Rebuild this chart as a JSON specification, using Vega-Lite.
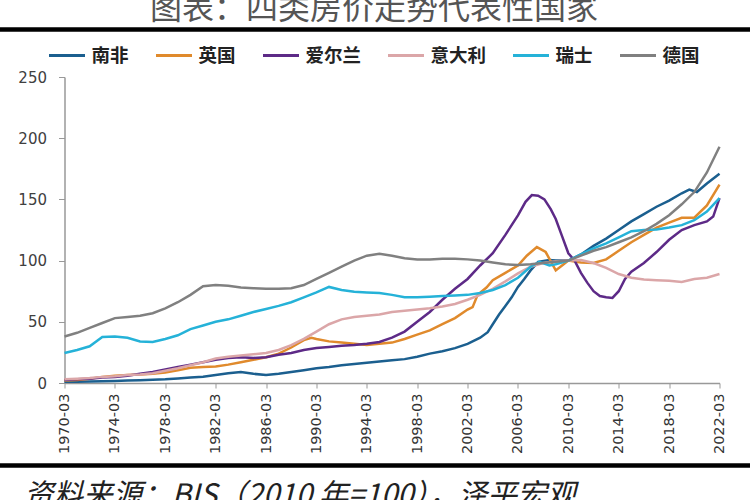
{
  "$schema": "https://vega.github.io/schema/vega-lite/v6.json",
  "width": 655,
  "height": 306,
  "autosize": {"type": "none"},
  "padding": {"left": 64.5, "top": 77, "right": 30.5, "bottom": 117},
  "background": "white",
  "config": {"view": {"stroke": null}},
  "datasets": {
    "prices": [
      {"country": "南非", "year": 1970, "value": 1},
      {"country": "南非", "year": 1971, "value": 1},
      {"country": "南非", "year": 1972, "value": 1.2},
      {"country": "南非", "year": 1973, "value": 1.5},
      {"country": "南非", "year": 1974, "value": 1.7},
      {"country": "南非", "year": 1975, "value": 2},
      {"country": "南非", "year": 1976, "value": 2.3},
      {"country": "南非", "year": 1977, "value": 2.7},
      {"country": "南非", "year": 1978, "value": 3},
      {"country": "南非", "year": 1979, "value": 3.7},
      {"country": "南非", "year": 1980, "value": 4.5},
      {"country": "南非", "year": 1981, "value": 5.2},
      {"country": "南非", "year": 1982, "value": 6.5},
      {"country": "南非", "year": 1983, "value": 8},
      {"country": "南非", "year": 1984, "value": 9},
      {"country": "南非", "year": 1985, "value": 7.5},
      {"country": "南非", "year": 1986, "value": 6.5},
      {"country": "南非", "year": 1987, "value": 7.5},
      {"country": "南非", "year": 1988, "value": 9},
      {"country": "南非", "year": 1989, "value": 10.5},
      {"country": "南非", "year": 1990, "value": 12},
      {"country": "南非", "year": 1991, "value": 13},
      {"country": "南非", "year": 1992, "value": 14.5},
      {"country": "南非", "year": 1993, "value": 15.5},
      {"country": "南非", "year": 1994, "value": 16.5},
      {"country": "南非", "year": 1995, "value": 17.5},
      {"country": "南非", "year": 1996, "value": 18.5},
      {"country": "南非", "year": 1997, "value": 19.5},
      {"country": "南非", "year": 1998, "value": 21.5},
      {"country": "南非", "year": 1999, "value": 24},
      {"country": "南非", "year": 2000, "value": 26},
      {"country": "南非", "year": 2001, "value": 28.5},
      {"country": "南非", "year": 2002, "value": 32},
      {"country": "南非", "year": 2003, "value": 37},
      {"country": "南非", "year": 2003.6, "value": 41.5},
      {"country": "南非", "year": 2004, "value": 48},
      {"country": "南非", "year": 2004.5, "value": 56},
      {"country": "南非", "year": 2005, "value": 63},
      {"country": "南非", "year": 2005.5, "value": 70},
      {"country": "南非", "year": 2006, "value": 78.5},
      {"country": "南非", "year": 2006.5, "value": 85},
      {"country": "南非", "year": 2007, "value": 92},
      {"country": "南非", "year": 2007.6, "value": 99},
      {"country": "南非", "year": 2008.5, "value": 100.5},
      {"country": "南非", "year": 2009, "value": 100},
      {"country": "南非", "year": 2010, "value": 100},
      {"country": "南非", "year": 2011, "value": 105},
      {"country": "南非", "year": 2012, "value": 112},
      {"country": "南非", "year": 2013, "value": 118},
      {"country": "南非", "year": 2014, "value": 125},
      {"country": "南非", "year": 2015, "value": 132},
      {"country": "南非", "year": 2016, "value": 138},
      {"country": "南非", "year": 2017, "value": 144},
      {"country": "南非", "year": 2018, "value": 149},
      {"country": "南非", "year": 2019, "value": 155},
      {"country": "南非", "year": 2019.6, "value": 158},
      {"country": "南非", "year": 2020.2, "value": 156},
      {"country": "南非", "year": 2021, "value": 163},
      {"country": "南非", "year": 2022, "value": 171},

      {"country": "英国", "year": 1970, "value": 2},
      {"country": "英国", "year": 1971, "value": 2.5},
      {"country": "英国", "year": 1972, "value": 3.5},
      {"country": "英国", "year": 1973, "value": 5},
      {"country": "英国", "year": 1974, "value": 6},
      {"country": "英国", "year": 1975, "value": 6.5},
      {"country": "英国", "year": 1976, "value": 7},
      {"country": "英国", "year": 1977, "value": 7.5},
      {"country": "英国", "year": 1978, "value": 8.5},
      {"country": "英国", "year": 1979, "value": 10.5},
      {"country": "英国", "year": 1980, "value": 12.5},
      {"country": "英国", "year": 1981, "value": 13},
      {"country": "英国", "year": 1982, "value": 13.5},
      {"country": "英国", "year": 1983, "value": 15},
      {"country": "英国", "year": 1984, "value": 17},
      {"country": "英国", "year": 1985, "value": 19},
      {"country": "英国", "year": 1986, "value": 21},
      {"country": "英国", "year": 1987, "value": 24},
      {"country": "英国", "year": 1988, "value": 29},
      {"country": "英国", "year": 1989, "value": 35},
      {"country": "英国", "year": 1989.6, "value": 37},
      {"country": "英国", "year": 1990, "value": 36},
      {"country": "英国", "year": 1991, "value": 34},
      {"country": "英国", "year": 1992, "value": 33},
      {"country": "英国", "year": 1993, "value": 32},
      {"country": "英国", "year": 1994, "value": 31},
      {"country": "英国", "year": 1995, "value": 32},
      {"country": "英国", "year": 1996, "value": 33},
      {"country": "英国", "year": 1997, "value": 36},
      {"country": "英国", "year": 1998, "value": 39.5},
      {"country": "英国", "year": 1999, "value": 43},
      {"country": "英国", "year": 2000, "value": 48},
      {"country": "英国", "year": 2001, "value": 53},
      {"country": "英国", "year": 2002, "value": 60},
      {"country": "英国", "year": 2002.4, "value": 62},
      {"country": "英国", "year": 2002.8, "value": 72},
      {"country": "英国", "year": 2003.5, "value": 78},
      {"country": "英国", "year": 2004, "value": 84},
      {"country": "英国", "year": 2005, "value": 90},
      {"country": "英国", "year": 2006, "value": 96},
      {"country": "英国", "year": 2006.7, "value": 104},
      {"country": "英国", "year": 2007.5, "value": 111},
      {"country": "英国", "year": 2008.2, "value": 107},
      {"country": "英国", "year": 2009, "value": 92},
      {"country": "英国", "year": 2009.5, "value": 96},
      {"country": "英国", "year": 2010, "value": 100},
      {"country": "英国", "year": 2011, "value": 98.5},
      {"country": "英国", "year": 2012, "value": 98},
      {"country": "英国", "year": 2013, "value": 101},
      {"country": "英国", "year": 2014, "value": 108},
      {"country": "英国", "year": 2015, "value": 115},
      {"country": "英国", "year": 2016, "value": 121},
      {"country": "英国", "year": 2017, "value": 127},
      {"country": "英国", "year": 2018, "value": 131},
      {"country": "英国", "year": 2019, "value": 135},
      {"country": "英国", "year": 2020, "value": 135},
      {"country": "英国", "year": 2021, "value": 145},
      {"country": "英国", "year": 2022, "value": 162},

      {"country": "爱尔兰", "year": 1970, "value": 2.5},
      {"country": "爱尔兰", "year": 1971, "value": 3},
      {"country": "爱尔兰", "year": 1972, "value": 3.5},
      {"country": "爱尔兰", "year": 1973, "value": 4.5},
      {"country": "爱尔兰", "year": 1974, "value": 5},
      {"country": "爱尔兰", "year": 1975, "value": 6},
      {"country": "爱尔兰", "year": 1976, "value": 7.5},
      {"country": "爱尔兰", "year": 1977, "value": 9},
      {"country": "爱尔兰", "year": 1978, "value": 11},
      {"country": "爱尔兰", "year": 1979, "value": 13},
      {"country": "爱尔兰", "year": 1980, "value": 15},
      {"country": "爱尔兰", "year": 1981, "value": 17},
      {"country": "爱尔兰", "year": 1982, "value": 19},
      {"country": "爱尔兰", "year": 1983, "value": 20.5},
      {"country": "爱尔兰", "year": 1984, "value": 21},
      {"country": "爱尔兰", "year": 1985, "value": 20.5},
      {"country": "爱尔兰", "year": 1986, "value": 21},
      {"country": "爱尔兰", "year": 1987, "value": 23},
      {"country": "爱尔兰", "year": 1988, "value": 24.5},
      {"country": "爱尔兰", "year": 1989, "value": 27},
      {"country": "爱尔兰", "year": 1990, "value": 28.5},
      {"country": "爱尔兰", "year": 1991, "value": 29.5},
      {"country": "爱尔兰", "year": 1992, "value": 30.5},
      {"country": "爱尔兰", "year": 1993, "value": 31},
      {"country": "爱尔兰", "year": 1994, "value": 32},
      {"country": "爱尔兰", "year": 1995, "value": 33.5},
      {"country": "爱尔兰", "year": 1996, "value": 37},
      {"country": "爱尔兰", "year": 1997, "value": 42},
      {"country": "爱尔兰", "year": 1998, "value": 50},
      {"country": "爱尔兰", "year": 1999, "value": 58},
      {"country": "爱尔兰", "year": 2000, "value": 68},
      {"country": "爱尔兰", "year": 2001, "value": 77},
      {"country": "爱尔兰", "year": 2002, "value": 85},
      {"country": "爱尔兰", "year": 2003, "value": 96},
      {"country": "爱尔兰", "year": 2004, "value": 106},
      {"country": "爱尔兰", "year": 2005, "value": 121},
      {"country": "爱尔兰", "year": 2006, "value": 137},
      {"country": "爱尔兰", "year": 2006.6, "value": 148},
      {"country": "爱尔兰", "year": 2007.1, "value": 153.5},
      {"country": "爱尔兰", "year": 2007.6, "value": 153},
      {"country": "爱尔兰", "year": 2008.1, "value": 150},
      {"country": "爱尔兰", "year": 2008.6, "value": 142},
      {"country": "爱尔兰", "year": 2009, "value": 134},
      {"country": "爱尔兰", "year": 2009.5, "value": 120},
      {"country": "爱尔兰", "year": 2010, "value": 106},
      {"country": "爱尔兰", "year": 2010.5, "value": 100},
      {"country": "爱尔兰", "year": 2011, "value": 90},
      {"country": "爱尔兰", "year": 2011.5, "value": 82},
      {"country": "爱尔兰", "year": 2012, "value": 75},
      {"country": "爱尔兰", "year": 2012.5, "value": 71},
      {"country": "爱尔兰", "year": 2013, "value": 70},
      {"country": "爱尔兰", "year": 2013.5, "value": 69.5},
      {"country": "爱尔兰", "year": 2014, "value": 75},
      {"country": "爱尔兰", "year": 2014.5, "value": 85},
      {"country": "爱尔兰", "year": 2015, "value": 91},
      {"country": "爱尔兰", "year": 2016, "value": 98},
      {"country": "爱尔兰", "year": 2017, "value": 107},
      {"country": "爱尔兰", "year": 2018, "value": 117},
      {"country": "爱尔兰", "year": 2019, "value": 125},
      {"country": "爱尔兰", "year": 2020, "value": 129},
      {"country": "爱尔兰", "year": 2021, "value": 132},
      {"country": "爱尔兰", "year": 2021.5, "value": 136},
      {"country": "爱尔兰", "year": 2022, "value": 151},

      {"country": "意大利", "year": 1970, "value": 3},
      {"country": "意大利", "year": 1971, "value": 3.5},
      {"country": "意大利", "year": 1972, "value": 4},
      {"country": "意大利", "year": 1973, "value": 5},
      {"country": "意大利", "year": 1974, "value": 5.5},
      {"country": "意大利", "year": 1975, "value": 6.5},
      {"country": "意大利", "year": 1976, "value": 7},
      {"country": "意大利", "year": 1977, "value": 8},
      {"country": "意大利", "year": 1978, "value": 10},
      {"country": "意大利", "year": 1979, "value": 12},
      {"country": "意大利", "year": 1980, "value": 14.5},
      {"country": "意大利", "year": 1981, "value": 17},
      {"country": "意大利", "year": 1982, "value": 20},
      {"country": "意大利", "year": 1983, "value": 21.5},
      {"country": "意大利", "year": 1984, "value": 22.5},
      {"country": "意大利", "year": 1985, "value": 23.5},
      {"country": "意大利", "year": 1986, "value": 24.5},
      {"country": "意大利", "year": 1987, "value": 27},
      {"country": "意大利", "year": 1988, "value": 31},
      {"country": "意大利", "year": 1989, "value": 36},
      {"country": "意大利", "year": 1990, "value": 42},
      {"country": "意大利", "year": 1991, "value": 48},
      {"country": "意大利", "year": 1992, "value": 52},
      {"country": "意大利", "year": 1993, "value": 54},
      {"country": "意大利", "year": 1994, "value": 55},
      {"country": "意大利", "year": 1995, "value": 56},
      {"country": "意大利", "year": 1996, "value": 58},
      {"country": "意大利", "year": 1997, "value": 59},
      {"country": "意大利", "year": 1998, "value": 60},
      {"country": "意大利", "year": 1999, "value": 61},
      {"country": "意大利", "year": 2000, "value": 62.5},
      {"country": "意大利", "year": 2001, "value": 64.5},
      {"country": "意大利", "year": 2002, "value": 68},
      {"country": "意大利", "year": 2003, "value": 72},
      {"country": "意大利", "year": 2004, "value": 77},
      {"country": "意大利", "year": 2005, "value": 83},
      {"country": "意大利", "year": 2006, "value": 89.5},
      {"country": "意大利", "year": 2007, "value": 95},
      {"country": "意大利", "year": 2008, "value": 98},
      {"country": "意大利", "year": 2009, "value": 99.5},
      {"country": "意大利", "year": 2010, "value": 100},
      {"country": "意大利", "year": 2011, "value": 100.5},
      {"country": "意大利", "year": 2012, "value": 98},
      {"country": "意大利", "year": 2013, "value": 94},
      {"country": "意大利", "year": 2014, "value": 89},
      {"country": "意大利", "year": 2015, "value": 86},
      {"country": "意大利", "year": 2016, "value": 84.5},
      {"country": "意大利", "year": 2017, "value": 84},
      {"country": "意大利", "year": 2018, "value": 83.5},
      {"country": "意大利", "year": 2019, "value": 82.5},
      {"country": "意大利", "year": 2020, "value": 85},
      {"country": "意大利", "year": 2021, "value": 86},
      {"country": "意大利", "year": 2022, "value": 89},

      {"country": "瑞士", "year": 1970, "value": 24.5},
      {"country": "瑞士", "year": 1971, "value": 27},
      {"country": "瑞士", "year": 1972, "value": 30},
      {"country": "瑞士", "year": 1973, "value": 37.5},
      {"country": "瑞士", "year": 1974, "value": 38},
      {"country": "瑞士", "year": 1975, "value": 37},
      {"country": "瑞士", "year": 1976, "value": 34},
      {"country": "瑞士", "year": 1977, "value": 33.5},
      {"country": "瑞士", "year": 1978, "value": 36},
      {"country": "瑞士", "year": 1979, "value": 39},
      {"country": "瑞士", "year": 1980, "value": 44},
      {"country": "瑞士", "year": 1981, "value": 47},
      {"country": "瑞士", "year": 1982, "value": 50},
      {"country": "瑞士", "year": 1983, "value": 52},
      {"country": "瑞士", "year": 1984, "value": 55},
      {"country": "瑞士", "year": 1985, "value": 58},
      {"country": "瑞士", "year": 1986, "value": 60.5},
      {"country": "瑞士", "year": 1987, "value": 63},
      {"country": "瑞士", "year": 1988, "value": 66},
      {"country": "瑞士", "year": 1989, "value": 70},
      {"country": "瑞士", "year": 1990, "value": 74},
      {"country": "瑞士", "year": 1991, "value": 78.5},
      {"country": "瑞士", "year": 1992, "value": 76},
      {"country": "瑞士", "year": 1993, "value": 74.5},
      {"country": "瑞士", "year": 1994, "value": 74},
      {"country": "瑞士", "year": 1995, "value": 73.5},
      {"country": "瑞士", "year": 1996, "value": 72},
      {"country": "瑞士", "year": 1997, "value": 70},
      {"country": "瑞士", "year": 1998, "value": 70},
      {"country": "瑞士", "year": 1999, "value": 70.5},
      {"country": "瑞士", "year": 2000, "value": 71},
      {"country": "瑞士", "year": 2001, "value": 71.5},
      {"country": "瑞士", "year": 2002, "value": 72},
      {"country": "瑞士", "year": 2003, "value": 73.5},
      {"country": "瑞士", "year": 2004, "value": 76},
      {"country": "瑞士", "year": 2005, "value": 80},
      {"country": "瑞士", "year": 2006, "value": 86},
      {"country": "瑞士", "year": 2007, "value": 95},
      {"country": "瑞士", "year": 2007.7, "value": 99},
      {"country": "瑞士", "year": 2008.5, "value": 96},
      {"country": "瑞士", "year": 2009, "value": 97},
      {"country": "瑞士", "year": 2010, "value": 100},
      {"country": "瑞士", "year": 2011, "value": 105},
      {"country": "瑞士", "year": 2012, "value": 110},
      {"country": "瑞士", "year": 2013, "value": 114},
      {"country": "瑞士", "year": 2014, "value": 119},
      {"country": "瑞士", "year": 2015, "value": 124},
      {"country": "瑞士", "year": 2016, "value": 125},
      {"country": "瑞士", "year": 2017, "value": 125.5},
      {"country": "瑞士", "year": 2018, "value": 127},
      {"country": "瑞士", "year": 2019, "value": 129},
      {"country": "瑞士", "year": 2020, "value": 133},
      {"country": "瑞士", "year": 2021, "value": 140},
      {"country": "瑞士", "year": 2022, "value": 151},

      {"country": "德国", "year": 1970, "value": 38},
      {"country": "德国", "year": 1971, "value": 41},
      {"country": "德国", "year": 1972, "value": 45},
      {"country": "德国", "year": 1973, "value": 49},
      {"country": "德国", "year": 1974, "value": 53},
      {"country": "德国", "year": 1975, "value": 54},
      {"country": "德国", "year": 1976, "value": 55},
      {"country": "德国", "year": 1977, "value": 57},
      {"country": "德国", "year": 1978, "value": 61},
      {"country": "德国", "year": 1979, "value": 66},
      {"country": "德国", "year": 1980, "value": 72},
      {"country": "德国", "year": 1981, "value": 79},
      {"country": "德国", "year": 1982, "value": 80},
      {"country": "德国", "year": 1983, "value": 79.5},
      {"country": "德国", "year": 1984, "value": 78},
      {"country": "德国", "year": 1985, "value": 77.5},
      {"country": "德国", "year": 1986, "value": 77},
      {"country": "德国", "year": 1987, "value": 77},
      {"country": "德国", "year": 1988, "value": 77.5},
      {"country": "德国", "year": 1989, "value": 80},
      {"country": "德国", "year": 1990, "value": 85},
      {"country": "德国", "year": 1991, "value": 90},
      {"country": "德国", "year": 1992, "value": 95},
      {"country": "德国", "year": 1993, "value": 100},
      {"country": "德国", "year": 1994, "value": 104},
      {"country": "德国", "year": 1995, "value": 105.5},
      {"country": "德国", "year": 1996, "value": 104},
      {"country": "德国", "year": 1997, "value": 102},
      {"country": "德国", "year": 1998, "value": 101},
      {"country": "德国", "year": 1999, "value": 101},
      {"country": "德国", "year": 2000, "value": 101.5},
      {"country": "德国", "year": 2001, "value": 101.5},
      {"country": "德国", "year": 2002, "value": 101},
      {"country": "德国", "year": 2003, "value": 100},
      {"country": "德国", "year": 2004, "value": 98.5},
      {"country": "德国", "year": 2005, "value": 97},
      {"country": "德国", "year": 2006, "value": 96.5},
      {"country": "德国", "year": 2007, "value": 97},
      {"country": "德国", "year": 2008, "value": 98},
      {"country": "德国", "year": 2009, "value": 99},
      {"country": "德国", "year": 2010, "value": 100},
      {"country": "德国", "year": 2011, "value": 104},
      {"country": "德国", "year": 2012, "value": 108},
      {"country": "德国", "year": 2013, "value": 111},
      {"country": "德国", "year": 2014, "value": 115},
      {"country": "德国", "year": 2015, "value": 119},
      {"country": "德国", "year": 2016, "value": 124},
      {"country": "德国", "year": 2017, "value": 130},
      {"country": "德国", "year": 2018, "value": 137},
      {"country": "德国", "year": 2019, "value": 146},
      {"country": "德国", "year": 2020, "value": 156},
      {"country": "德国", "year": 2021, "value": 172},
      {"country": "德国", "year": 2022, "value": 193}
    ],
    "frame": [
      {"edge": "top", "left": 1964.8, "right": 2024.5, "level": 288.8},
      {"edge": "bottom", "left": 1964.8, "right": 2024.5, "level": -67.4}
    ]
  },
  "layer": [
    {
      "data": {"name": "prices"},
      "mark": {"type": "line", "strokeWidth": 2.5, "interpolate": "linear"},
      "encoding": {
        "x": {
          "field": "year",
          "type": "quantitative",
          "scale": {"domain": [1970, 2022], "nice": false, "zero": false},
          "axis": {
            "values": [1970, 1974, 1978, 1982, 1986, 1990, 1994, 1998, 2002, 2006, 2010, 2014, 2018, 2022],
            "labelExpr": "datum.value + '-03'",
            "labelAngle": -90,
            "labelFont": "DejaVu Sans",
            "labelFontSize": 14.5,
            "labelColor": "#333333",
            "labelPadding": 5,
            "domainColor": "#999999",
            "domainWidth": 1.5,
            "tickColor": "#999999",
            "tickSize": 5,
            "grid": false,
            "title": "资料来源：BIS（2010 年=100），泽平宏观",
            "titleFont": "Noto Sans CJK SC",
            "titleFontSize": 29.5,
            "titleFontStyle": "italic",
            "titleFontWeight": "normal",
            "titleColor": "#222222",
            "titleX": -41,
            "titleY": 121,
            "titleAlign": "left",
            "titleBaseline": "alphabetic"
          }
        },
        "y": {
          "field": "value",
          "type": "quantitative",
          "scale": {"domain": [0, 250], "nice": false},
          "axis": {
            "values": [0, 50, 100, 150, 200, 250],
            "labelFont": "DejaVu Sans",
            "labelFontSize": 15,
            "labelColor": "#404040",
            "labelPadding": 12,
            "domainColor": "#999999",
            "domainWidth": 1.5,
            "tickColor": "#999999",
            "tickSize": 6,
            "grid": false,
            "title": "图表：四类房价走势代表性国家",
            "titleFont": "Noto Sans CJK SC",
            "titleFontSize": 32,
            "titleFontWeight": "normal",
            "titleColor": "#555555",
            "titleAngle": 0,
            "titleAlign": "center",
            "titleBaseline": "alphabetic",
            "titleX": 309,
            "titleY": -59
          }
        },
        "color": {
          "field": "country",
          "type": "nominal",
          "sort": ["南非", "英国", "爱尔兰", "意大利", "瑞士", "德国"],
          "scale": {
            "domain": ["南非", "英国", "爱尔兰", "意大利", "瑞士", "德国"],
            "range": ["#1b5f8f", "#e08a2c", "#5d2a87", "#dba6a8", "#25b2d8", "#808080"]
          },
          "legend": {
            "orient": "none",
            "legendX": -17,
            "legendY": -41,
            "direction": "horizontal",
            "title": null,
            "symbolType": "stroke",
            "symbolSize": 1296,
            "symbolStrokeWidth": 3,
            "labelFont": "Noto Sans CJK SC",
            "labelFontSize": 18.5,
            "labelFontWeight": "bold",
            "labelColor": "#222222",
            "labelOffset": 5,
            "columnPadding": 20
          }
        }
      }
    },
    {
      "data": {"name": "frame"},
      "mark": {"type": "rule", "color": "#000000", "strokeWidth": 4.5, "clip": false},
      "encoding": {
        "x": {"field": "left", "type": "quantitative"},
        "x2": {"field": "right"},
        "y": {"field": "level", "type": "quantitative"}
      }
    }
  ]
}
